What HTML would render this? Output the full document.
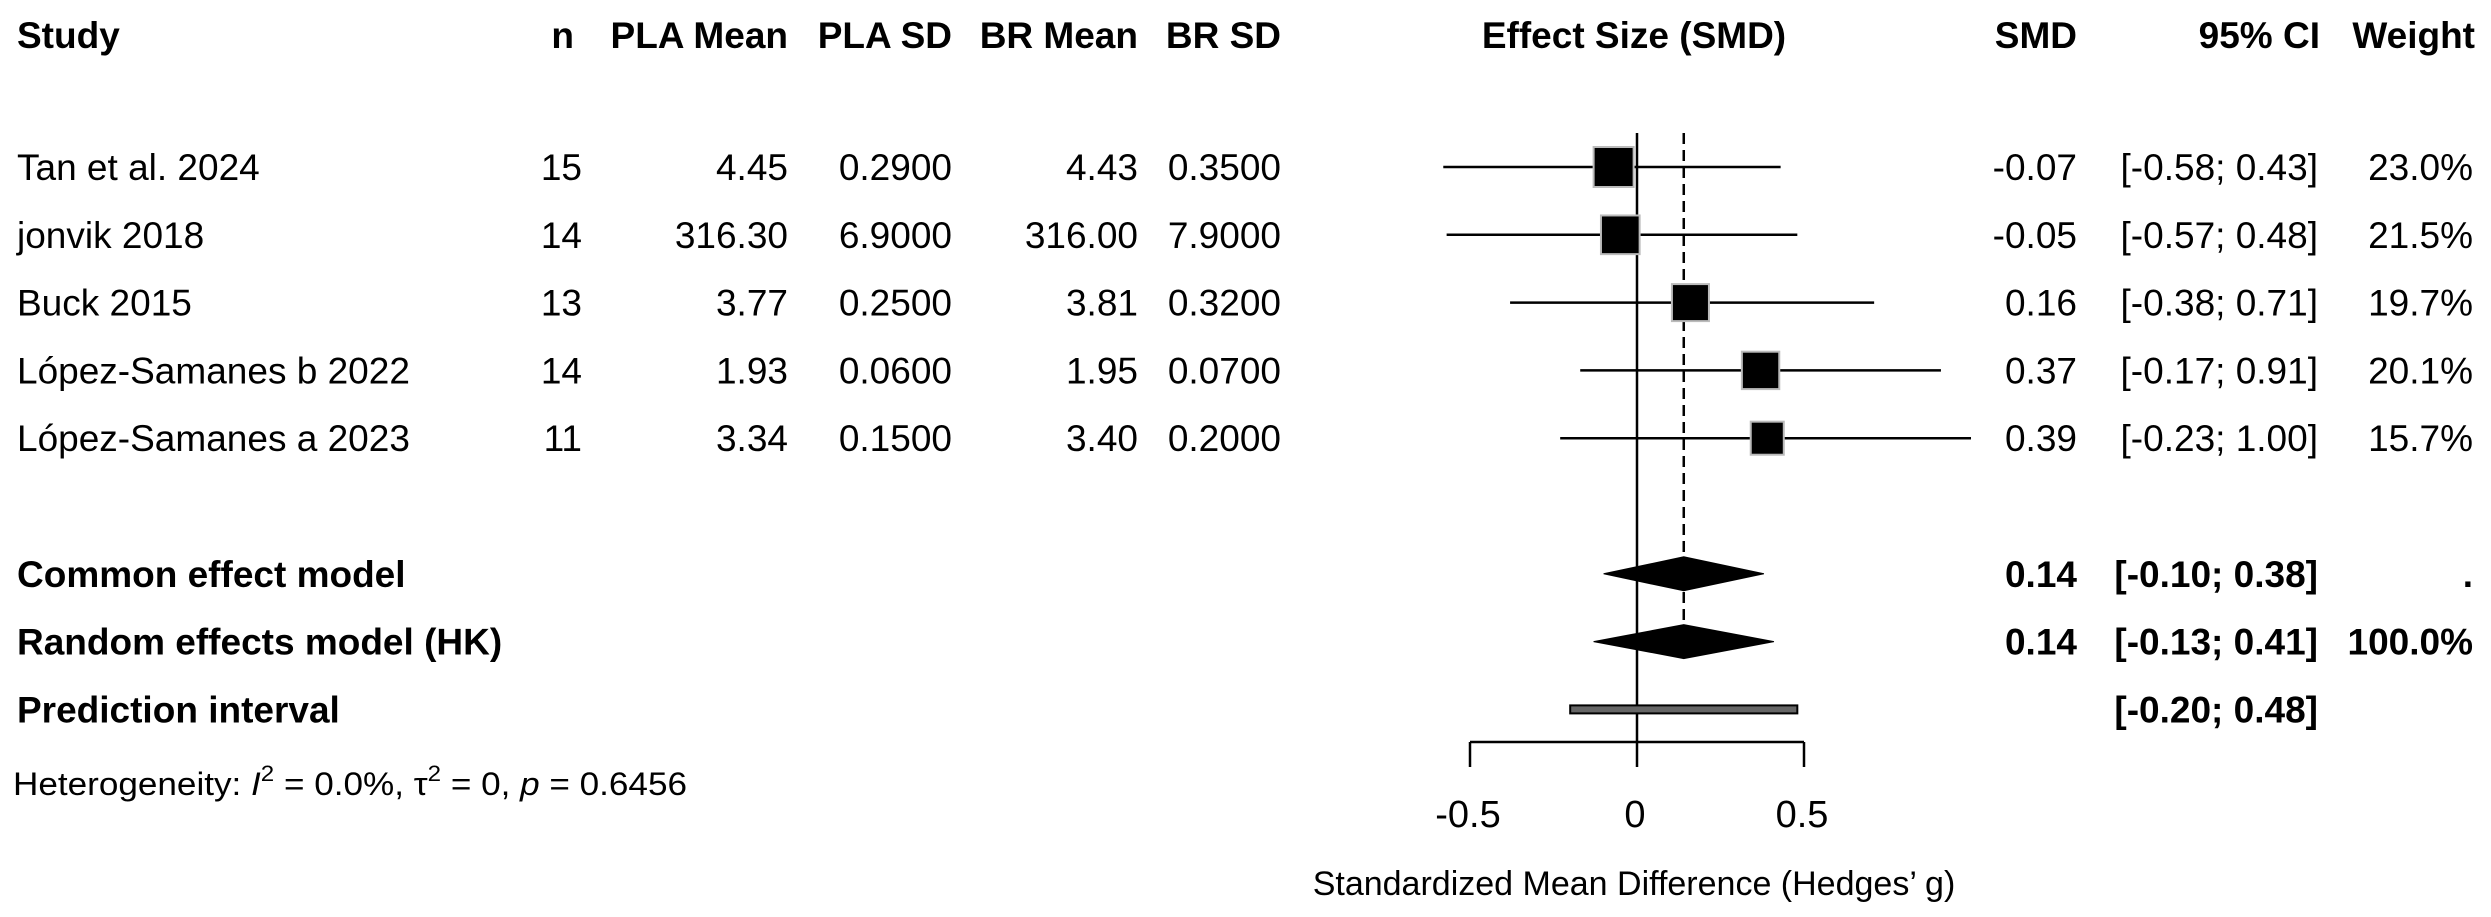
<!DOCTYPE html>
<html><head><meta charset="utf-8"><style>
html,body{margin:0;padding:0;background:#fff;}
svg{display:block;font-family:"Liberation Sans",Arial,sans-serif;}
</style></head><body>
<svg id="chart" width="2491" height="917" viewBox="0 0 2491 917" xmlns="http://www.w3.org/2000/svg">
<g id="header" font-weight="bold" font-size="37">
<text x="17" y="48">Study</text>
<text x="574" y="48" text-anchor="end">n</text>
<text x="788" y="48" text-anchor="end">PLA Mean</text>
<text x="952" y="48" text-anchor="end">PLA SD</text>
<text x="1138" y="48" text-anchor="end">BR Mean</text>
<text x="1281" y="48" text-anchor="end">BR SD</text>
<text x="1634" y="48" text-anchor="middle">Effect Size (SMD)</text>
<text x="2077" y="48" text-anchor="end">SMD</text>
<text x="2320" y="48" text-anchor="end">95% CI</text>
<text x="2475" y="48" text-anchor="end">Weight</text>
</g>
<g id="rows"></g>
<g id="plot"></g>
<text x="13" y="795" font-size="32" textLength="674" lengthAdjust="spacingAndGlyphs">Heterogeneity: <tspan font-style="italic">I</tspan><tspan dy="-14" font-size="22">2</tspan><tspan dy="14"> = 0.0%, τ</tspan><tspan dy="-14" font-size="22">2</tspan><tspan dy="14"> = 0, </tspan><tspan font-style="italic">p</tspan> = 0.6456</text>
<text x="1634" y="895" font-size="34" text-anchor="middle">Standardized Mean Difference (Hedges’ g)</text>
</svg>
<script>
const studies = ["Tan et al. 2024","jonvik 2018","Buck 2015","López-Samanes b 2022","López-Samanes a 2023"];
const nVals = [15,14,13,14,11];
const plaMean = ["4.45","316.30","3.77","1.93","3.34"];
const plaSD = ["0.2900","6.9000","0.2500","0.0600","0.1500"];
const brMean = ["4.43","316.00","3.81","1.95","3.40"];
const brSD = ["0.3500","7.9000","0.3200","0.0700","0.2000"];
const smd = [-0.07,-0.05,0.16,0.37,0.39];
const ciLow = [-0.58,-0.57,-0.38,-0.17,-0.23];
const ciHigh = [0.43,0.48,0.71,0.91,1.00];
const weights = [23.0,21.5,19.7,20.1,15.7];
const summaryLabels = ["Common effect model","Random effects model (HK)"];
const summaryEst = [0.14,0.14];
const summaryLow = [-0.10,-0.13];
const summaryHigh = [0.38,0.41];
const summaryWeight = [".","100.0%"];
const predLow = -0.20;
const predHigh = 0.48;
const xTicks = [-0.5,0,0.5];
const xTickLabels = ["-0.5","0","0.5"];

const NS="http://www.w3.org/2000/svg";
const x0=1637, xs=334;
function X(v){return x0+v*xs;}
function Y(i){return 167+67.8*i;}
function fmt(v){return v.toFixed(2);}
function mk(tag,attrs,parent,txt){const e=document.createElementNS(NS,tag);for(const k in attrs)e.setAttribute(k,attrs[k]);if(txt!==undefined)e.textContent=txt;parent.appendChild(e);return e;}
const rows=document.getElementById('rows');
const plot=document.getElementById('plot');

studies.forEach((s,i)=>{
  const y=Y(i)+13;
  const g=mk('g',{'font-size':'37'},rows);
  
  
  const cells=[[s,17,'start'],[String(nVals[i]),582,'end'],[plaMean[i],788,'end'],[plaSD[i],952,'end'],[brMean[i],1138,'end'],[brSD[i],1281,'end'],[fmt(smd[i]),2077,'end'],['['+fmt(ciLow[i])+'; '+fmt(ciHigh[i])+']',2318,'end'],[weights[i].toFixed(1)+'%',2473,'end']];
  cells.forEach(c=>{
    const t=mk('text',{x:c[1],y:y,'text-anchor':c[2]},g,c[0]);
    
    
  });
});
summaryLabels.forEach((s,i)=>{
  const y=Y(6+i)+13;
  const g=mk('g',{'font-size':'37','font-weight':'bold'},rows);
  
  
  [[s,17,'start'],[fmt(summaryEst[i]),2077,'end'],['['+fmt(summaryLow[i])+'; '+fmt(summaryHigh[i])+']',2318,'end'],[summaryWeight[i],2473,'end']].forEach(c=>{
    const t=mk('text',{x:c[1],y:y,'text-anchor':c[2]},g,c[0]);
    
    
  });
});
{
  const g=mk('g',{'font-size':'37','font-weight':'bold'},rows);
  
  
  const t1=mk('text',{x:17,y:Y(8)+13},g,'Prediction interval');
  
  
  const t2=mk('text',{x:2318,y:Y(8)+13,'text-anchor':'end'},g,'['+fmt(predLow)+'; '+fmt(predHigh)+']');
  
  
}

// reference lines
const zl=mk('line',{x1:X(0),x2:X(0),y1:133,y2:742,stroke:'#000','stroke-width':2.5},plot);


const dl=mk('line',{x1:X(summaryEst[0]),x2:X(summaryEst[0]),y1:133,y2:Y(7)+17,stroke:'#000','stroke-width':2.5,'stroke-dasharray':'11 6'},plot);



studies.forEach((s,i)=>{
  const y=Y(i);
  const l=mk('line',{x1:X(ciLow[i]),x2:X(ciHigh[i]),y1:y,y2:y,stroke:'#000','stroke-width':2.5},plot);
  
  
  const side=40*Math.sqrt(weights[i]/23);
  const r=mk('rect',{x:X(smd[i])-side/2,y:y-side/2,width:side,height:side,fill:'#000',stroke:'#bbb','stroke-width':2},plot);
  
  
});
summaryEst.forEach((e,i)=>{
  const y=Y(6+i),h=17;
  const p=mk('polygon',{points:`${X(summaryLow[i])},${y} ${X(e)},${y-h} ${X(summaryHigh[i])},${y} ${X(e)},${y+h}`,fill:'#000',stroke:'#000','stroke-width':1},plot);
  
  
});
const pr=mk('rect',{x:X(predLow),y:Y(8)-4,width:X(predHigh)-X(predLow),height:8,fill:'#666',stroke:'#000','stroke-width':2},plot);



// axis
const ax=mk('line',{x1:X(xTicks[0]),x2:X(xTicks[xTicks.length-1]),y1:742,y2:742,stroke:'#000','stroke-width':2.5},plot);


xTicks.forEach((t,i)=>{
  const tk=mk('line',{x1:X(t),x2:X(t),y1:742,y2:767,stroke:'#000','stroke-width':2.5},plot);
  
  
  const lb=mk('text',{x:X(t)-2,y:827,'font-size':'38','text-anchor':'middle'},plot,xTickLabels[i]);
  
  
});
</script>
</body></html>
